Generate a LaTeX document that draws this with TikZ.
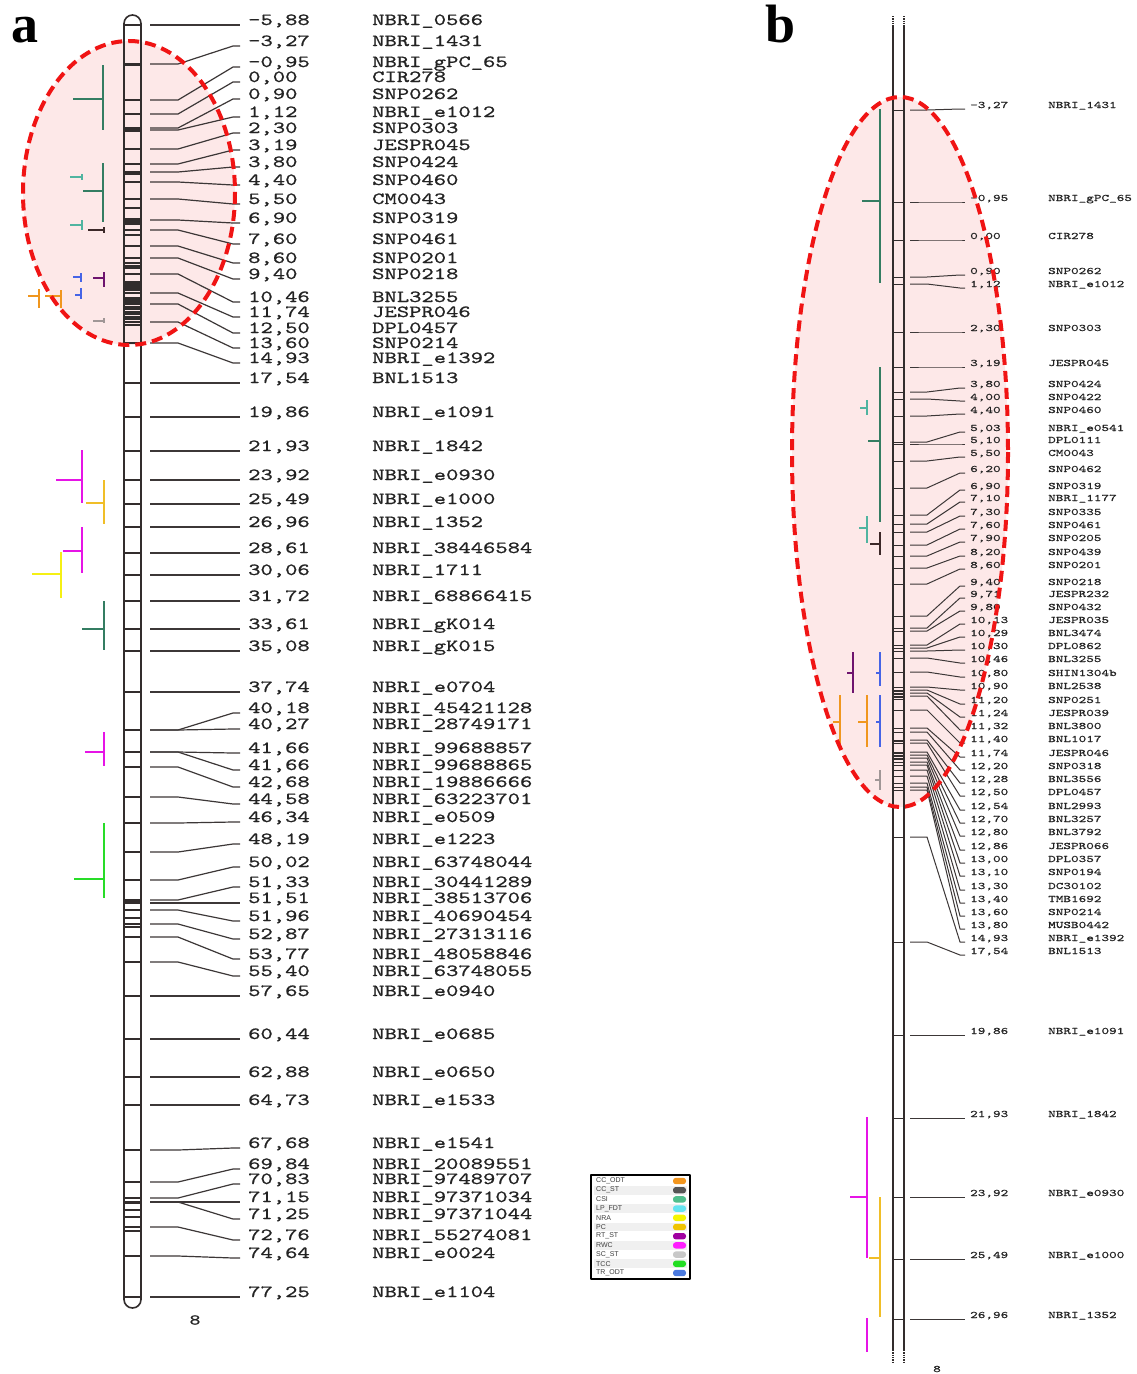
\documentclass[tikz,border=0pt]{standalone}
\usepackage{fontspec}
\setmainfont{Liberation Serif}
\newfontfamily\monoA{lmmono10-regular.otf}[FakeStretch=1.38,FakeBold=0.8]
\newfontfamily\monoB{lmmono10-regular.otf}[FakeStretch=1.45,FakeBold=0.5]
\newfontfamily\legfont{Liberation Sans}
\usetikzlibrary{calc}
\definecolor{pinkfill}{RGB}{253,232,232}
\definecolor{ringred}{RGB}{240,20,20}
\definecolor{chromc}{RGB}{50,45,45}
\definecolor{labc}{RGB}{60,55,55}
\definecolor{txtc}{RGB}{35,35,35}
\definecolor{cgreen}{RGB}{52,125,98}
\definecolor{cteal}{RGB}{80,180,160}
\definecolor{cdark}{RGB}{60,40,40}
\definecolor{cblue}{RGB}{70,100,230}
\definecolor{cpurple}{RGB}{110,20,110}
\definecolor{corange}{RGB}{240,150,30}
\definecolor{cgold}{RGB}{240,190,40}
\definecolor{cmag}{RGB}{230,20,230}
\definecolor{cyellow}{RGB}{245,240,20}
\definecolor{ctcc}{RGB}{40,220,40}
\definecolor{cgray}{RGB}{160,150,150}
\definecolor{lgA}{RGB}{243,150,30}
\definecolor{lgB}{RGB}{85,85,85}
\definecolor{lgC}{RGB}{80,190,140}
\definecolor{lgD}{RGB}{100,228,240}
\definecolor{lgE}{RGB}{245,245,0}
\definecolor{lgF}{RGB}{240,196,0}
\definecolor{lgG}{RGB}{160,0,160}
\definecolor{lgH}{RGB}{255,30,255}
\definecolor{lgI}{RGB}{200,200,200}
\definecolor{lgJ}{RGB}{34,221,34}
\definecolor{lgK}{RGB}{74,122,224}
\tikzset{
  chrom/.style={draw=chromc,line width=1.6pt},
  tickm/.style={draw=chromc,line width=1.1pt},
  lab/.style={draw=labc,line width=1.2pt},
  labb/.style={draw=labc,line width=1.0pt},
  numA/.style={inner sep=0pt,anchor=base west,text=txtc,font=\monoA\fontsize{17}{17}\selectfont},
  numB/.style={inner sep=0pt,anchor=base west,text=txtc,font=\monoB\fontsize{10}{10}\selectfont},
  qv/.style={line width=2.6pt},
  qh/.style={line width=1.3pt},
  redring/.style={draw=ringred,line width=4pt,dash pattern=on 11pt off 6pt},
  legtxt/.style={inner sep=0pt,anchor=west,font=\legfont\fontsize{7}{7}\selectfont,text=black!75},
  panellab/.style={inner sep=0pt,anchor=base west,text height=36pt,font=\bfseries\fontsize{54}{54}\selectfont}
}
\newcommand\qtlbar[6]{\draw[qv,#1] (#2,#3) -- (#2,#4); \draw[qh,#1] (#5,#6) -- (#2,#6);}
\begin{document}
\begin{tikzpicture}[x=1pt,y=-1pt,line join=round]
\fill[white] (0,0) rectangle (1136,1374);
\useasboundingbox (0,0) rectangle (1136,1374);

% highlighted regions
\fill[pinkfill] (129,193) ellipse [x radius=106, y radius=152];
\fill[pinkfill] (900,452) ellipse [x radius=108, y radius=355];

% panel labels
\node[panellab] (pa) at (11,42) {a};
\node[panellab] (pb) at (765,42) {b};

% ---------------- panel a ----------------
\draw[chrom,rounded corners=8.5pt] (124,15) rectangle (141,1308);
\foreach \yy in {65,100,114,128,131,149,164,172,174,182,199,208,219,221,223,224,230,235,246,258,263,266,268,274,282,284,286,287,289,290,293,298,300,302,304,307,309,312,314,317,319,322,325,902,910,918,924,927,937,1210,1217,1227,1231}
  \draw[tickm] (124,\yy) -- (141,\yy);
\draw[chrom,line width=2.6pt] (124,730) -- (141,730);
\draw[chrom,line width=2.6pt] (124,1203) -- (141,1203);

\foreach \ya/\yb/\vnum/\vnam [count=\i] in {
25/25/{-5,88}/NBRI\_0566,
64/46/{-3,27}/NBRI\_1431,
100/67/{-0,95}/NBRI\_gPC\_65,
114/82/{0,00}/CIR278,
128/99/{0,90}/SNP0262,
130/117/{1,12}/NBRI\_e1012,
149/133/{2,30}/SNP0303,
164/150/{3,19}/JESPR045,
172/167/{3,80}/SNP0424,
182/185/{4,40}/SNP0460,
199/204/{5,50}/CM0043,
220/223/{6,90}/SNP0319,
230/244/{7,60}/SNP0461,
246/263/{8,60}/SNP0201,
258/279/{9,40}/SNP0218,
274/302/{10,46}/BNL3255,
293/317/{11,74}/JESPR046,
304/333/{12,50}/DPL0457,
322/348/{13,60}/SNP0214,
343/363/{14,93}/NBRI\_e1392,
383/383/{17,54}/BNL1513,
417/417/{19,86}/NBRI\_e1091,
451/451/{21,93}/NBRI\_1842,
480/480/{23,92}/NBRI\_e0930,
504/504/{25,49}/NBRI\_e1000,
527/527/{26,96}/NBRI\_1352,
553/553/{28,61}/NBRI\_38446584,
575/575/{30,06}/NBRI\_1711,
601/601/{31,72}/NBRI\_68866415,
629/629/{33,61}/NBRI\_gK014,
651/651/{35,08}/NBRI\_gK015,
692/692/{37,74}/NBRI\_e0704,
730/713/{40,18}/NBRI\_45421128,
730/729/{40,27}/NBRI\_28749171,
752/753/{41,66}/NBRI\_99688857,
752/770/{41,66}/NBRI\_99688865,
767/787/{42,68}/NBRI\_19886666,
797/804/{44,58}/NBRI\_63223701,
823/822/{46,34}/NBRI\_e0509,
852/844/{48,19}/NBRI\_e1223,
880/867/{50,02}/NBRI\_63748044,
900/887/{51,33}/NBRI\_30441289,
903/903/{51,51}/NBRI\_38513706,
910/921/{51,96}/NBRI\_40690454,
924/939/{52,87}/NBRI\_27313116,
937/959/{53,77}/NBRI\_48058846,
962/976/{55,40}/NBRI\_63748055,
996/996/{57,65}/NBRI\_e0940,
1039/1039/{60,44}/NBRI\_e0685,
1077/1077/{62,88}/NBRI\_e0650,
1105/1105/{64,73}/NBRI\_e1533,
1150/1148/{67,68}/NBRI\_e1541,
1182/1169/{69,84}/NBRI\_20089551,
1198/1184/{70,83}/NBRI\_97489707,
1202/1202/{71,15}/NBRI\_97371034,
1202/1219/{71,25}/NBRI\_97371044,
1227/1240/{72,76}/NBRI\_55274081,
1256/1258/{74,64}/NBRI\_e0024,
1297/1297/{77,25}/NBRI\_e1104}{
  \draw[tickm] (124,\ya) -- (141,\ya);
  \coordinate (ta\i) at (150,\ya);
  \coordinate (la\i) at (240,\yb);
  \node[numA] (na\i) at (248,\yb) {\vnum};
  \node[numA] (ma\i) at (372,\yb) {\vnam};
  \draw[lab] (ta\i) -- ++(28,0) -- ($(la\i)+(-7,0)$) -- (la\i);
}
\node[numA,font=\monoA\fontsize{15}{15}\selectfont,anchor=center] (chra) at (195,1320) {8};

% QTL bars panel a
\qtlbar{cgreen}{103}{65}{130}{73}{99}
\qtlbar{cgreen}{103}{163}{222}{83}{191}
\qtlbar{cteal}{82}{174}{180}{70}{177}
\qtlbar{cteal}{82}{220}{230}{70}{225}
\qtlbar{cdark}{104}{227}{233}{88}{230}
\qtlbar{cblue}{81}{273}{282}{73}{277}
\qtlbar{cpurple}{104}{272}{287}{93}{278}
\qtlbar{corange}{39}{289}{308}{28}{296}
\qtlbar{corange}{61}{290}{308}{45}{296}
\qtlbar{cblue}{81}{288}{299}{75}{295}
\qtlbar{cgray}{104}{318}{323}{93}{321}
\qtlbar{cmag}{82}{450}{503}{56}{480}
\qtlbar{cgold}{104}{480}{524}{86}{503}
\qtlbar{cmag}{82}{527}{573}{63}{551}
\qtlbar{cyellow}{61}{552}{598}{32}{574}
\qtlbar{cgreen}{104}{601}{650}{82}{629}
\qtlbar{cmag}{104}{732}{766}{85}{752}
\qtlbar{ctcc}{104}{823}{898}{74}{879}

% legend
\draw[black,line width=1.5pt] (591,1175) rectangle (690,1279);
\foreach \lname/\lcol [count=\j from 0] in {CC\_ODT/lgA,CC\_ST/lgB,CSI/lgC,LP\_FDT/lgD,NRA/lgE,PC/lgF,RT\_ST/lgG,RWC/lgH,SC\_ST/lgI,TCC/lgJ,TR\_ODT/lgK}{
  \pgfmathsetmacro\ly{1181+9.2*\j}
  \ifodd\j \fill[black!6] (594,\ly-4.4) rectangle (687,\ly+4.4); \fi
  \node[legtxt] (lg\j) at (596,\ly) {\lname};
  \fill[\lcol,rounded corners=2.8pt] (673,\ly-3.2) rectangle (686,\ly+3.2);
}

% ---------------- panel b ----------------
\draw[chrom,line width=1.3pt] (893,25) -- (893,1350);
\draw[chrom,line width=1.3pt] (904,25) -- (904,1350);
\draw[chrom,line width=1.3pt,densely dotted] (893,16) -- (893,25);
\draw[chrom,line width=1.3pt,densely dotted] (904,16) -- (904,25);
\draw[chrom,line width=1.3pt,densely dotted] (893,1350) -- (893,1363);
\draw[chrom,line width=1.3pt,densely dotted] (904,1350) -- (904,1363);
\foreach \yy in {691,694,697,699,741,753,756,759}
  \draw[tickm,line width=0.9pt] (893,\yy) -- (904,\yy);

\foreach \ya/\yb/\vnum/\vnam [count=\i] in {
110/109/{-3,27}/NBRI\_1431,
202/202/{-0,95}/NBRI\_gPC\_65,
240/240/{0,00}/CIR278,
277/275/{0,90}/SNP0262,
284/288/{1,12}/NBRI\_e1012,
332/332/{2,30}/SNP0303,
367/367/{3,19}/JESPR045,
392/388/{3,80}/SNP0424,
399/401/{4,00}/SNP0422,
416/414/{4,40}/SNP0460,
442/432/{5,03}/NBRI\_e0541,
444/444/{5,10}/DPL0111,
461/457/{5,50}/CM0043,
488/473/{6,20}/SNP0462,
515/490/{6,90}/SNP0319,
524/502/{7,10}/NBRI\_1177,
532/516/{7,30}/SNP0335,
545/529/{7,60}/SNP0461,
556/542/{7,90}/SNP0205,
568/556/{8,20}/SNP0439,
584/569/{8,60}/SNP0201,
616/586/{9,40}/SNP0218,
628/598/{9,71}/JESPR232,
631/611/{9,80}/SNP0432,
645/624/{10,13}/JESPR035,
648/637/{10,29}/BNL3474,
651/650/{10,30}/DPL0862,
658/663/{10,46}/BNL3255,
672/677/{10,80}/SHIN1304b,
687/690/{10,90}/BNL2538,
690/704/{11,20}/SNP0251,
693/717/{11,24}/JESPR039,
696/730/{11,32}/BNL3800,
710/743/{11,40}/BNL1017,
728/757/{11,74}/JESPR046,
732/770/{12,20}/SNP0318,
740/783/{12,28}/BNL3556,
743/796/{12,50}/DPL0457,
752/810/{12,54}/BNL2993,
755/823/{12,70}/BNL3257,
758/836/{12,80}/BNL3792,
762/850/{12,86}/JESPR066,
765/863/{13,00}/DPL0357,
770/876/{13,10}/SNP0194,
776/890/{13,30}/DC30102,
783/903/{13,40}/TMB1692,
787/916/{13,60}/SNP0214,
790/929/{13,80}/MUSB0442,
837/942/{14,93}/NBRI\_e1392,
942/955/{17,54}/BNL1513,
1035/1035/{19,86}/NBRI\_e1091,
1118/1118/{21,93}/NBRI\_1842,
1197/1197/{23,92}/NBRI\_e0930,
1259/1259/{25,49}/NBRI\_e1000,
1319/1319/{26,96}/NBRI\_1352}{
  \draw[tickm,line width=0.9pt] (893,\ya) -- (904,\ya);
  \coordinate (tb\i) at (910,\ya);
  \coordinate (lb\i) at (965,\yb);
  \node[numB] (nb\i) at (970,\yb-1) {\vnum};
  \node[numB] (mb\i) at (1048,\yb-1) {\vnam};
  \draw[labb] (tb\i) -- ++(17,0) -- ($(lb\i)+(-5,0)$) -- (lb\i);
}
\node[numB,anchor=center] (chrb) at (937,1369) {8};

% QTL bars panel b
\qtlbar{cgreen}{880}{109}{283}{862}{201}
\qtlbar{cgreen}{880}{367}{522}{868}{441}
\qtlbar{cteal}{867}{400}{415}{860}{408}
\qtlbar{cteal}{867}{516}{543}{859}{528}
\qtlbar{cdark}{880}{532}{555}{870}{544}
\qtlbar{cpurple}{853}{652}{693}{847}{673}
\qtlbar{cblue}{880}{652}{686}{876}{673}
\qtlbar{corange}{840}{695}{745}{833}{722}
\qtlbar{corange}{867}{695}{747}{858}{722}
\qtlbar{cblue}{880}{695}{747}{876}{722}
\qtlbar{cgray}{880}{770}{790}{875}{780}
\qtlbar{cmag}{867}{1117}{1258}{850}{1197}
\qtlbar{cgold}{880}{1197}{1317}{869}{1258}
\draw[qv,cmag] (867,1318) -- (867,1352);

% dashed rings on top
\draw[redring] (129,193) ellipse [x radius=106, y radius=152];
\draw[redring] (900,452) ellipse [x radius=108, y radius=355];
\end{tikzpicture}
\end{document}
